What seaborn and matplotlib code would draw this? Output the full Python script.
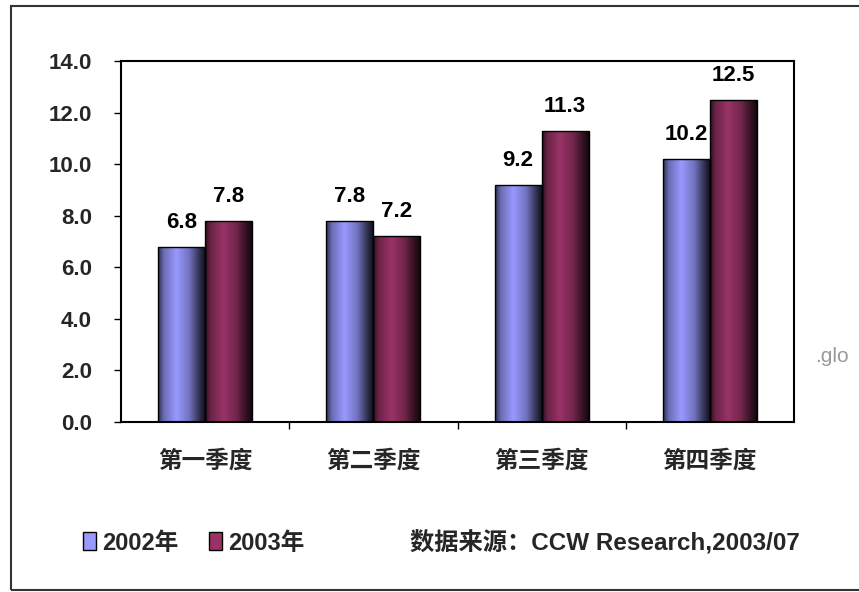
"""Quarterly comparison 2002 vs 2003 (CCW Research)."""

import matplotlib
matplotlib.use("Agg")
import matplotlib.pyplot as plt
import matplotlib.patches as mpatches
import numpy as np
import pandas as pd
import seaborn as sns
from matplotlib.colors import to_rgb

quarters = ["第一季度", "第二季度", "第三季度", "第四季度"]
years = ["2002年", "2003年"]
values_2002 = [6.8, 7.8, 9.2, 10.2]
values_2003 = [7.8, 7.2, 11.3, 12.5]
yticks = [0, 2, 4, 6, 8, 10, 12, 14]
source_note = "数据来源：CCW Research,2003/07"

colors = ["#9999FF", "#993366"]

df = pd.DataFrame({
    "quarter": quarters * 2,
    "year": [years[0]] * 4 + [years[1]] * 4,
    "value": values_2002 + values_2003,
})

sns.set_theme(style="white")
plt.rcParams["font.family"] = ["Liberation Sans", "Noto Sans CJK SC"]

fig = plt.figure(figsize=(8.59, 5.92), dpi=100)
ax = fig.add_axes([121 / 859, 1 - 422 / 592, (794 - 121) / 859, (422 - 61) / 592])

sns.barplot(data=df, x="quarter", y="value", hue="year", order=quarters,
            hue_order=years, palette=colors, width=0.56, gap=0,
            edgecolor="black", linewidth=1, saturation=1, ax=ax, legend=True)

# cylinder-like shading on each bar
t = np.linspace(0, 1, 200)
shade = np.interp(t, [0, 0.12, 0.38, 0.65, 0.9, 1.0],
                  [0.3, 0.7, 1.0, 0.75, 0.25, 0.1])
for patch in list(ax.patches):
    if patch.get_height() <= 0 or patch.get_width() <= 0:
        continue
    base = np.array(to_rgb(patch.get_facecolor()))
    img = np.clip(shade[:, None] * base[None, :], 0, 1)[None, :, :]
    x0, y0 = patch.get_x(), patch.get_y()
    w, h = patch.get_width(), patch.get_height()
    im = ax.imshow(img, extent=[x0, x0 + w, y0, y0 + h], aspect="auto",
                   interpolation="bilinear", zorder=patch.get_zorder() + 0.1)
    im.set_clip_path(patch)
    patch.set_facecolor("none")
    patch.set_zorder(patch.get_zorder() + 0.2)

for container in ax.containers:
    ax.bar_label(container, fmt="%.1f", padding=10, fontsize=16,
                 fontweight="bold", color="black")

ax.set_xlim(-0.5, 3.5)
ax.set_ylim(0, 14)
ax.set_yticks(yticks)
ax.set_yticklabels([f"{v:.1f}" for v in yticks], fontsize=16, fontweight="bold")
ax.set_xticks(range(4))
ax.set_xticklabels(quarters, fontsize=17, fontweight="bold")
ax.set_xticks([0.5, 1.5, 2.5], minor=True)
ax.tick_params(axis="x", which="major", length=0, pad=20)
ax.tick_params(axis="x", which="minor", length=5, width=1, color="black",
               direction="out", bottom=True)
ax.tick_params(axis="y", length=5, width=1, color="black", direction="out",
               left=True, pad=16)
ax.set_xlabel("")
ax.set_ylabel("")
for spine in ax.spines.values():
    spine.set_visible(True)
    spine.set_color("black")
    spine.set_linewidth(1.5)

sns.move_legend(ax, "center left", bbox_to_anchor=(62 / 859, 1 - 543 / 592),
                bbox_transform=fig.transFigure, ncol=2, frameon=False,
                title=None, handlelength=0.55, handleheight=0.8,
                handletextpad=0.25, columnspacing=1.3,
                prop={"weight": "bold", "size": 17})
for h in ax.get_legend().legend_handles:
    h.set_edgecolor("black")
    h.set_linewidth(1)

fig.text(410 / 859, 1 - 543 / 592, source_note, fontsize=17.5, fontweight="bold",
         ha="left", va="center")
fig.text(815 / 859, 1 - 357 / 592, ".glo", fontsize=15, color="#999999",
         ha="left", va="center")

# outer frame
fig.patches.append(mpatches.Rectangle((11 / 859, 2 / 592), 1.2, 1 - 8 / 592,
                                      transform=fig.transFigure, fill=False,
                                      edgecolor="#333333", linewidth=1.5))

fig.savefig("out.png", dpi=100)
